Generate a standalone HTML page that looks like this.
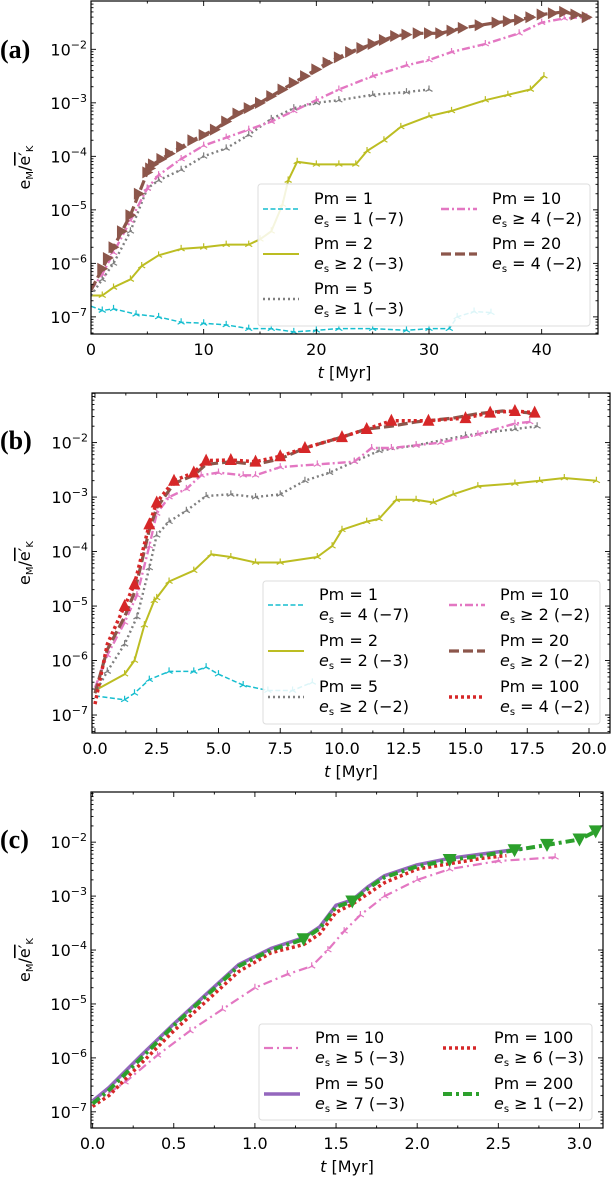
<!DOCTYPE html>
<html><head><meta charset="utf-8">
<style>
html,body{margin:0;padding:0;background:#fff;}
svg{display:block;font-family:"DejaVu Sans","Liberation Sans",sans-serif;}
</style></head>
<body>
<svg id="fig" width="612" height="1185" viewBox="0 0 612 1185" xmlns="http://www.w3.org/2000/svg"></svg>
<script>
// ---- data (t in Myr, value as log10) ----
const aCyanT=[0,1,2,4,6,8,10,12,14,16,18,20,22,25,28,30,31.8,32.5,34,35.5];
const aCyanV=[-6.8,-6.88,-6.85,-6.95,-7.0,-7.1,-7.12,-7.15,-7.22,-7.22,-7.28,-7.25,-7.22,-7.22,-7.25,-7.22,-7.22,-7.0,-6.9,-6.92];
const aOliveT=[0,1,2,3.5,4.5,6,8,10,12,14,15,16,17,17.5,18.3,20,22,23.5,24.5,26,27.5,30,32,35,37,39,40.2];
const aOliveV=[-6.6,-6.6,-6.45,-6.3,-6.05,-5.85,-5.73,-5.7,-5.65,-5.65,-5.55,-5.4,-4.9,-4.45,-4.1,-4.15,-4.15,-4.15,-3.9,-3.7,-3.45,-3.25,-3.15,-2.95,-2.85,-2.75,-2.5];
const aGrayT=[0,1,2,3.5,5,6,8,10,12,14,16,18,20,22,25,28,30];
const aGrayV=[-6.6,-6.3,-6.0,-5.4,-4.6,-4.45,-4.25,-4.0,-3.85,-3.6,-3.3,-3.1,-3.0,-2.95,-2.85,-2.8,-2.75];
const aPinkT=[0,1,2,3.5,5,6,8,10,12,14,16,18,20,22,25,28,30,32,35,38,40,42,44];
const aPinkV=[-6.5,-6.2,-5.8,-5.2,-4.6,-4.35,-4.05,-3.8,-3.65,-3.5,-3.35,-3.15,-2.95,-2.75,-2.5,-2.3,-2.2,-2.05,-1.9,-1.7,-1.5,-1.42,-1.4];
const aBrownT=[0,1,2,3.5,5,5.5,7,9,11,13,15,17,19,21,23,25,27,29,31,33,36,38,40,42,44];
const aBrownV=[-6.5,-6.1,-5.7,-5.1,-4.3,-4.15,-3.95,-3.7,-3.5,-3.2,-3.0,-2.75,-2.5,-2.25,-2.05,-1.9,-1.75,-1.7,-1.7,-1.6,-1.5,-1.45,-1.35,-1.3,-1.4];

const bCyanT=[0,1.2,1.6,2.2,3,4,4.5,5,6,7,8,8.8];
const bCyanV=[-6.65,-6.72,-6.6,-6.35,-6.2,-6.2,-6.12,-6.25,-6.45,-6.55,-6.55,-6.4];
const bOliveT=[0,1.2,1.6,2,2.4,2.5,3,4,4.7,5.5,6.5,7.5,9,9.6,10,11,11.5,12.2,13,13.7,14.5,15.5,17,18,19,20.3];
const bOliveV=[-6.55,-6.25,-6.0,-5.35,-4.9,-4.85,-4.55,-4.35,-4.05,-4.1,-4.2,-4.2,-4.1,-3.9,-3.6,-3.45,-3.4,-3.05,-3.05,-3.1,-2.95,-2.8,-2.75,-2.7,-2.65,-2.7];
const bGrayT=[0,0.5,1.2,1.7,2.2,2.5,3,3.7,4.5,5.5,6.5,7.5,8.5,9.5,10.5,11.5,13,15,17,17.9];
const bGrayV=[-6.6,-6.2,-5.7,-5.2,-4.3,-3.7,-3.45,-3.25,-2.98,-2.95,-3.0,-2.95,-2.7,-2.55,-2.35,-2.15,-2.05,-1.87,-1.75,-1.7];
const bPinkT=[0,0.5,1.2,1.7,2.2,2.5,3,3.7,4.3,5,6,6.5,7.5,9,10.5,11.2,12,13,14,15.5,17,17.6];
const bPinkV=[-6.5,-5.9,-5.3,-4.8,-3.9,-3.3,-3.0,-2.85,-2.6,-2.55,-2.6,-2.6,-2.45,-2.4,-2.35,-2.1,-2.1,-2.05,-2.0,-1.85,-1.65,-1.62];
const bBrownT=[0,0.5,1.2,1.6,2.2,2.5,3.2,4,4.5,5.5,6.5,7.5,8.5,10,11,12,13,14.5,15.5,16.5,17.5,17.8];
const bBrownV=[-6.6,-5.8,-5.2,-4.75,-3.6,-3.2,-2.75,-2.6,-2.4,-2.35,-2.4,-2.3,-2.1,-1.9,-1.75,-1.7,-1.62,-1.55,-1.47,-1.42,-1.45,-1.5];
const bRedT=[0,0.5,1.2,1.6,2.2,2.5,3.2,4,4.5,5.5,6.5,7.5,8.5,10,11,12,13.5,15,16,17,17.8];
const bRedV=[-6.8,-5.7,-5.0,-4.6,-3.5,-3.1,-2.7,-2.55,-2.33,-2.32,-2.35,-2.25,-2.1,-1.9,-1.75,-1.6,-1.6,-1.55,-1.45,-1.42,-1.45];

const cGreenT=[0,0.1,0.3,0.5,0.7,0.9,1.1,1.3,1.4,1.5,1.6,1.7,1.8,2.0,2.2,2.4,2.6,2.8,3.0,3.1];
const cGreenV=[-6.85,-6.6,-6.0,-5.4,-4.85,-4.3,-4.0,-3.8,-3.6,-3.2,-3.1,-2.85,-2.65,-2.45,-2.33,-2.25,-2.15,-2.05,-1.95,-1.8];
const cPurpleT=[0,0.1,0.3,0.5,0.7,0.9,1.1,1.3,1.4,1.5,1.6,1.7,1.8,2.0,2.2,2.4,2.65];
const cPurpleV=[-6.8,-6.55,-5.95,-5.37,-4.82,-4.27,-3.97,-3.77,-3.57,-3.17,-3.07,-2.82,-2.62,-2.42,-2.3,-2.22,-2.12];
const cRedT=[0,0.1,0.3,0.5,0.7,0.9,1.1,1.3,1.4,1.5,1.6,1.7,1.8,2.0,2.2,2.4,2.55];
const cRedV=[-6.9,-6.7,-6.1,-5.5,-4.95,-4.4,-4.05,-3.9,-3.7,-3.3,-3.15,-2.95,-2.75,-2.5,-2.4,-2.3,-2.25];
const cPinkT=[0,0.2,0.4,0.6,0.8,1.0,1.2,1.35,1.45,1.55,1.65,1.8,2.0,2.2,2.5,2.85];
const cPinkV=[-6.85,-6.45,-5.95,-5.5,-5.1,-4.7,-4.45,-4.3,-4.0,-3.65,-3.35,-3.0,-2.7,-2.5,-2.35,-2.28];

const aXTicks=[0,10,20,30,40];
const bXTicks=[0,2.5,5,7.5,10,12.5,15,17.5,20];
const cXTicks=[0,0.5,1,1.5,2,2.5,3];
const yTicks=[-7,-6,-5,-4,-3,-2];

const NS="http://www.w3.org/2000/svg";
const svg=document.getElementById('fig');
function mk(tag,attrs,parent){const e=document.createElementNS(NS,tag);for(const k in attrs)e.setAttribute(k,attrs[k]);(parent||svg).appendChild(e);return e;}

const C={cyan:'#17becf',olive:'#bcbd22',gray:'#7f7f7f',pink:'#e377c2',brown:'#8c564b',red:'#d62728',purple:'#9467bd',green:'#2ca02c'};
const ST={
 cyan:{c:C.cyan,w:1.5,d:'5,2.5'},
 olive:{c:C.olive,w:2,d:''},
 gray:{c:C.gray,w:2.4,d:'2,3'},
 pink:{c:C.pink,w:2.4,d:'8,3,2,3'},
 brown:{c:C.brown,w:3.2,d:'10,4'},
 red:{c:C.red,w:3.5,d:'3,3'},
 purple:{c:C.purple,w:3.5,d:''},
 green:{c:C.green,w:4,d:'9,4,3,4'},
 pinkc:{c:C.pink,w:2.2,d:'9,4,2,4'}
};

function panel(p){
  const g=mk('g',{});
  
  
  const X=t=>p.L+(t-p.x0)/(p.x1-p.x0)*(p.R-p.L);
  const Y=v=>p.T+(p.y1-v)/(p.y1-p.y0)*(p.B-p.T);
  const cp=mk('clipPath',{id:'clip'+p.id},g);
  mk('rect',{x:p.L,y:p.T,width:p.R-p.L,height:p.B-p.T},cp);
  const sg=mk('g',{'clip-path':'url(#clip'+p.id+')'},g);
  p.series.forEach(s=>{
    const st=ST[s.style];
    const pts=s.t.map((t,i)=>X(t).toFixed(1)+','+Y(s.v[i]).toFixed(1)).join(' ');
    const pl=mk('polyline',{points:pts,fill:'none',stroke:st.c,'stroke-width':st.w,'stroke-dasharray':st.d,'stroke-linejoin':'round'},sg);
    
    
    s.t.forEach((t,i)=>{
      const x=X(t),y=Y(s.v[i]);
      if(s.marker==='tri'&&i>0){
        mk('path',{d:`M${x},${y} L${x},${y-4} M${x},${y} L${x-3.5},${y+2} M${x},${y} L${x+3.5},${y+2}`,stroke:st.c,'stroke-width':1.2,fill:'none'},sg);
      } else if(s.marker==='right'&&i>0){
        const xs=[x]; if(i<s.t.length-1){xs.push((x+X(s.t[i+1]))/2);}
        const ys=[y]; if(i<s.t.length-1){ys.push((y+Y(s.v[i+1]))/2);}
        xs.forEach((xx,k)=>mk('polygon',{points:`${xx-5},${ys[k]-6} ${xx+6},${ys[k]} ${xx-5},${ys[k]+6}`,fill:st.c},sg));
      } else if(s.marker==='up'&&i>1){
        mk('polygon',{points:`${x-6},${y+5} ${x},${y-7} ${x+6},${y+5}`,fill:st.c},sg);
      } else if(s.marker==='down'&&(i===7||i===10||i===14||i>=16)){
        mk('polygon',{points:`${x-7},${y-6} ${x+7},${y-6} ${x},${y+7}`,fill:st.c},sg);
      }
    });
  });
  const fr=mk('rect',{x:p.L,y:p.T,width:p.R-p.L,height:p.B-p.T,fill:'none',stroke:'#000','stroke-width':1.2},g);
  
  
  for(let d=Math.floor(p.y0);d<=Math.ceil(p.y1);d++){
    for(let m=1;m<10;m++){
      const v=d+Math.log10(m); if(v<p.y0||v>p.y1) continue;
      const y=Y(v),len=m===1?5:2.5;
      mk('line',{x1:p.L,y1:y,x2:p.L+len,y2:y,stroke:'#000','stroke-width':0.9},g);
      mk('line',{x1:p.R,y1:y,x2:p.R-len,y2:y,stroke:'#000','stroke-width':0.9},g);
    }
  }
  yTicks.forEach(v=>{
    const t=mk('text',{x:p.L-4,y:Y(v)+6,'text-anchor':'end','font-size':16},g);
    
    
    t.textContent='10';
    const sp=mk('tspan',{dy:-7,'font-size':11},t); sp.textContent='−'+(-v);
  });
  const step=p.xt[1]-p.xt[0];
  for(let t=p.xt[0]-step;t<=p.x1+1e-9;t+=step/2){
    if(t<p.x0) continue;
    const x=X(t),major=Math.abs((t/step)-Math.round(t/step))<1e-6,len=major?5:2.5;
    mk('line',{x1:x,y1:p.B,x2:x,y2:p.B-len,stroke:'#000','stroke-width':0.9},g);
    mk('line',{x1:x,y1:p.T,x2:x,y2:p.T+len,stroke:'#000','stroke-width':0.9},g);
  }
  p.xt.forEach((t,i)=>{
    const tx=mk('text',{x:X(t),y:p.B+21,'text-anchor':'middle','font-size':16},g);
    
    
    tx.textContent=p.xl[i];
  });
  const xl=mk('text',{x:(p.L+p.R)/2,y:p.B+44,'text-anchor':'middle','font-size':16},g);
  
  
  xl.innerHTML='<tspan font-style="italic">t</tspan> [Myr]';
  const cy=(p.T+p.B)/2;
  const yl=mk('text',{x:0,y:0,'text-anchor':'middle','font-size':16,transform:`translate(30,${cy}) rotate(-90)`},g);
  
  
  yl.innerHTML='e<tspan font-size="10" dy="3">M</tspan><tspan dy="-3">/</tspan><tspan text-decoration="overline">e′</tspan><tspan font-size="10" dy="3">K</tspan>';
  const lab=mk('text',{x:0,y:p.labY,'font-size':26,'font-weight':'bold','font-family':'"Liberation Serif",serif'},g);
  
  
  lab.textContent='('+p.id+')';
  const lg=mk('g',{},g);
  
  
  mk('rect',{x:p.lx,y:p.ly,width:p.lw,height:p.lh,rx:3,fill:'#fff','fill-opacity':0.85,stroke:'#ddd'},lg);
  p.leg.forEach(e=>{
    const st=ST[e.style];
    const le=mk('g',{},lg);
    
    
    mk('line',{x1:e.x,y1:e.y+11,x2:e.x+36,y2:e.y+11,stroke:st.c,'stroke-width':st.w,'stroke-dasharray':st.d},le);
    const t1=mk('text',{x:e.x+51,y:e.y+6,'font-size':16},le); t1.textContent='Pm = '+e.pm;
    const t2=mk('text',{x:e.x+51,y:e.y+26,'font-size':16},le);
    t2.innerHTML='<tspan font-style="italic">e</tspan><tspan font-size="10" dy="3">s</tspan><tspan dy="-3"> '+e.es+'</tspan>';
  });
}

panel({id:'a',L:91,R:598,T:1,B:334,x0:0,x1:45,y0:-7.32,y1:-1.097,xt:aXTicks,xl:['0','10','20','30','40'],labY:58,
 lx:258,ly:184,lw:332,lh:142,
 leg:[{x:263,y:198,pm:'1',es:'= 1 (−7)',style:'cyan'},{x:263,y:243,pm:'2',es:'≥ 2 (−3)',style:'olive'},{x:263,y:288,pm:'5',es:'≥ 1 (−3)',style:'gray'},
      {x:441,y:198,pm:'10',es:'≥ 4 (−2)',style:'pink'},{x:441,y:243,pm:'20',es:'= 4 (−2)',style:'brown'}],
 series:[{name:'pm1-line',t:aCyanT,v:aCyanV,style:'cyan',marker:'tri'},{name:'pm2-line',t:aOliveT,v:aOliveV,style:'olive',marker:'tri'},
  {name:'pm5-line',t:aGrayT,v:aGrayV,style:'gray',marker:'tri'},{name:'pm10-line',t:aPinkT,v:aPinkV,style:'pink',marker:'tri'},
  {name:'pm20-line',t:aBrownT,v:aBrownV,style:'brown',marker:'right'}]});

panel({id:'b',L:92,R:610,T:393,B:733,x0:-0.12,x1:20.85,y0:-7.33,y1:-1.09,xt:bXTicks,xl:['0.0','2.5','5.0','7.5','10.0','12.5','15.0','17.5','20.0'],labY:449,
 lx:263,ly:581,lw:337,lh:143,
 leg:[{x:268,y:594,pm:'1',es:'= 4 (−7)',style:'cyan'},{x:268,y:640,pm:'2',es:'= 2 (−3)',style:'olive'},{x:268,y:686,pm:'5',es:'≥ 2 (−2)',style:'gray'},
      {x:449,y:594,pm:'10',es:'≥ 2 (−2)',style:'pink'},{x:449,y:640,pm:'20',es:'≥ 2 (−2)',style:'brown'},{x:449,y:686,pm:'100',es:'= 4 (−2)',style:'red'}],
 series:[{name:'pm1-line',t:bCyanT,v:bCyanV,style:'cyan',marker:'tri'},{name:'pm2-line',t:bOliveT,v:bOliveV,style:'olive',marker:'tri'},
  {name:'pm5-line',t:bGrayT,v:bGrayV,style:'gray',marker:'tri'},{name:'pm10-line',t:bPinkT,v:bPinkV,style:'pink',marker:'tri'},
  {name:'pm20-line',t:bBrownT,v:bBrownV,style:'brown',marker:''},{name:'pm100-line',t:bRedT,v:bRedV,style:'red',marker:'up'}]});

panel({id:'c',L:91,R:603,T:792,B:1128,x0:-0.01,x1:3.145,y0:-7.30,y1:-1.07,xt:cXTicks,xl:['0.0','0.5','1.0','1.5','2.0','2.5','3.0'],labY:848,
 lx:259,ly:1024,lw:333,lh:96,
 leg:[{x:264,y:1037,pm:'10',es:'≥ 5 (−3)',style:'pinkc'},{x:264,y:1083,pm:'50',es:'≥ 7 (−3)',style:'purple'},
      {x:443,y:1037,pm:'100',es:'≥ 6 (−3)',style:'red'},{x:443,y:1083,pm:'200',es:'≥ 1 (−2)',style:'green'}],
 series:[{name:'pm10-line',t:cPinkT,v:cPinkV,style:'pinkc',marker:'tri'},{name:'pm50-line',t:cPurpleT,v:cPurpleV,style:'purple',marker:''},
  {name:'pm100-line',t:cRedT,v:cRedV,style:'red',marker:''},{name:'pm200-line',t:cGreenT,v:cGreenV,style:'green',marker:'down'}]});
</script>
</body></html>
